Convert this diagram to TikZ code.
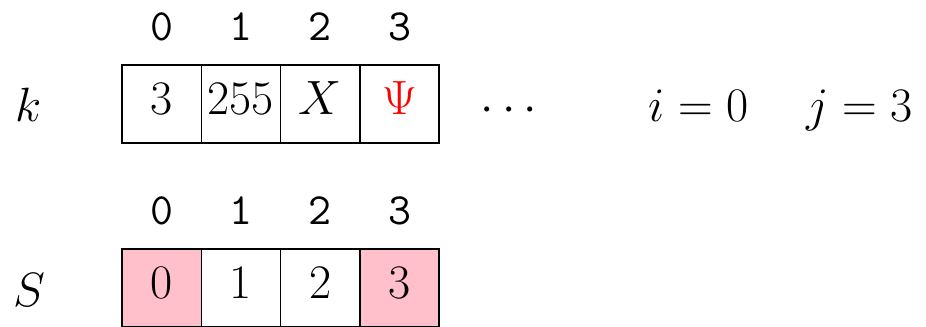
\documentclass[tikz,border=0pt]{standalone}
\usepackage{amsmath,amssymb}
\usepackage{tikz}
\usetikzlibrary{positioning}
\definecolor{cellpink}{RGB}{255,192,203}

\begin{document}
\begin{tikzpicture}[
	cell/.style={
		draw,
		line width=0.5pt,
		minimum width=1cm,
		minimum height=0.98cm,
		inner sep=0pt,
		text height=0.75em,
		text depth=0pt,
		font=\fontsize{17.3}{21}\selectfont
	},
	marked/.style={cell, fill=cellpink},
	idx/.style={
		anchor=base,
		inner sep=0pt,
		font=\ttfamily\fontsize{16}{19}\selectfont
	},
	lbl/.style={
		anchor=base,
		inner sep=0pt,
		font=\fontsize{17.3}{21}\selectfont
	}
	]
	
	\useasboundingbox (0,0) rectangle (11.677,4.111);
	
	% key array k
	\node[lbl] (k) at (0.366,2.573) {$k$};
	
	\node[cell] (k0) at (2.038,2.80) {$3$};
	\node[cell] (k1) at (3.038,2.80) {$255$};
	\node[cell] (k2) at (4.038,2.80) {$X$};
	\node[cell] (k3) at (5.038,2.80) {\color{red}$\Psi$};
	
	\node[idx] (ki0) at (2.038,3.606) {0};
	\node[idx] (ki1) at (3.038,3.606) {1};
	\node[idx] (ki2) at (4.038,3.606) {2};
	\node[idx] (ki3) at (5.038,3.606) {3};
	
	\node[lbl] (dots) at (6.47,2.573) {$\cdots$};
	
	\node[lbl] (i) at (8.81,2.573) {$i=0$};
	\node[lbl] (j) at (10.84,2.573) {$j=3$};
	
	% state array S
	\node[lbl] (S) at (0.366,0.252) {$S$};
	
	\node[marked] (s0) at (2.038,0.479) {$0$};
	\node[cell] (s1) at (3.038,0.479) {$1$};
	\node[cell] (s2) at (4.038,0.479) {$2$};
	\node[marked] (s3) at (5.038,0.479) {$3$};
	
	\node[idx] (si0) at (2.038,1.274) {0};
	\node[idx] (si1) at (3.038,1.274) {1};
	\node[idx] (si2) at (4.038,1.274) {2};
	\node[idx] (si3) at (5.038,1.274) {3};
	
\end{tikzpicture}
\end{document}
